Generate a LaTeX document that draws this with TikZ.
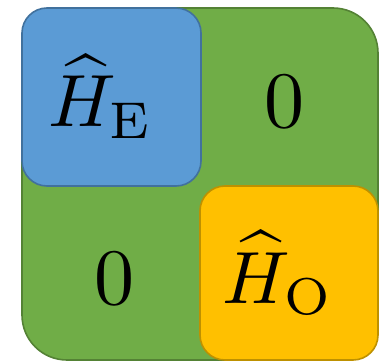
\documentclass[tikz,border=0pt]{standalone}
\usepackage{amsmath}
\definecolor{mgreen}{RGB}{112,173,71}
\definecolor{dgreen}{RGB}{84,130,53}
\definecolor{mblue}{RGB}{91,155,213}
\definecolor{dblue}{RGB}{65,113,157}
\definecolor{morange}{RGB}{255,192,0}
\definecolor{dorange}{RGB}{190,145,0}

\begin{document}
\begin{tikzpicture}[x=1pt, y=-1pt,
    panel/.style={rectangle, draw=#1, line width=1.6pt, inner sep=0pt},
    lbl/.style={scale=#1, transform shape, inner sep=0pt, anchor=base},
    lbl/.default=8]

\useasboundingbox (0,0) rectangle (384,364);

% Outer block matrix
\node[panel=dgreen, fill=mgreen, rounded corners=45pt,
      minimum width=356pt, minimum height=352pt] (outer) at (200,184) {};

% Diagonal blocks
\node[panel=dblue, fill=mblue, rounded corners=25pt,
      minimum width=179pt, minimum height=178pt] (blockE) at (111.5,97) {};
\node[panel=dorange, fill=morange, rounded corners=25pt,
      minimum width=178pt, minimum height=174pt] (blockO) at (289,273) {};

% Entries
\node[lbl=7.4] (hE) at (100.5,127) {$\widehat{H}_{\mathrm{E}}$};
\node[lbl] (zeroTR) at (285,128) {$0$};
\node[lbl] (zeroBL) at (115,305) {$0$};
\node[lbl=7.4] (hO) at (278,303) {$\widehat{H}_{\mathrm{O}}$};

\end{tikzpicture}
\end{document}
